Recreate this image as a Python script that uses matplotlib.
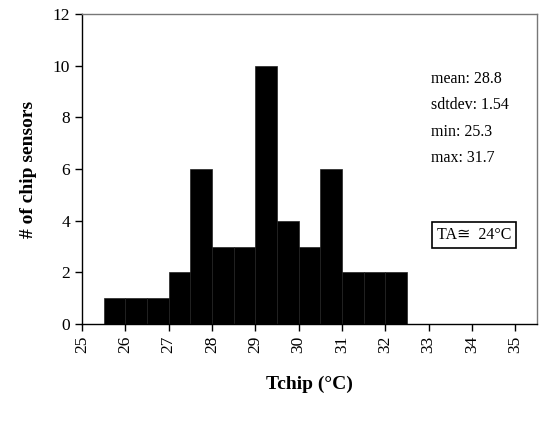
import matplotlib
matplotlib.use("Agg")
import matplotlib.pyplot as plt

# histogram of chip temperatures, 0.5 degC bins
bin_edges = [25.5, 26.0, 26.5, 27.0, 27.5, 28.0, 28.5, 29.0, 29.5, 30.0, 30.5, 31.0, 31.5, 32.0, 32.5]
counts = [1, 1, 1, 2, 6, 3, 3, 10, 4, 3, 6, 2, 2, 2]
xticks = [25, 26, 27, 28, 29, 30, 31, 32, 33, 34, 35]
yticks = [0, 2, 4, 6, 8, 10, 12]
stats = ["mean: 28.8", "sdtdev: 1.54", "min: 25.3", "max: 31.7"]

plt.rcParams["font.family"] = ["Liberation Serif", "DejaVu Sans"]

fig = plt.figure(figsize=(5.4, 4.21), dpi=100)
ax = fig.add_axes([0.152, 0.23, 0.842, 0.737])

lefts = bin_edges[:-1]
widths = [b - a for a, b in zip(bin_edges[:-1], bin_edges[1:])]
ax.bar(lefts, counts, width=widths, align="edge", color="black", edgecolor="#222222", linewidth=0.5)

ax.set_xlim(25, 35.5)
ax.set_ylim(0, 12)
ax.set_xticks(xticks)
ax.set_xticklabels([str(t) for t in xticks], rotation=90)
ax.set_yticks(yticks)
ax.tick_params(axis="both", labelsize=12.5, direction="out", length=5, width=1)
for s in ax.spines.values():
    s.set_linewidth(1)
    s.set_color("black")
ax.spines["right"].set_color("#777777")
ax.spines["top"].set_color("#777777")

for i, s in enumerate(stats):
    ax.text(33.05, 9.5 - i * 1.03, s, fontsize=11.5, va="center", ha="left")

ax.text(33.2, 3.45, "TA\u2245  24\u00b0C", fontsize=11.5, va="center", ha="left",
        bbox=dict(boxstyle="square,pad=0.3", facecolor="white", edgecolor="black", linewidth=1.2))

ax.set_ylabel("# of chip sensors", fontsize=14, fontweight="bold", labelpad=11)
ax.set_xlabel("Tchip (\u00b0C)", fontsize=14, fontweight="bold", labelpad=16)

fig.savefig("out.png", dpi=100)
